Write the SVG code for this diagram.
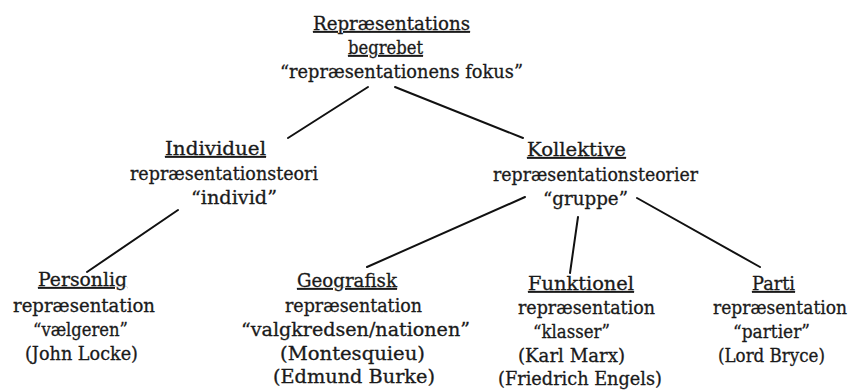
<svg xmlns="http://www.w3.org/2000/svg" width="853" height="390" viewBox="0 0 853 390">
<style>
text{font-family:"DejaVu Serif","Liberation Serif",serif;font-size:18px;fill:#1a1a1a;stroke:#1a1a1a;stroke-width:0.3}
.h{text-decoration:underline}
.c line{stroke:#111;stroke-width:2;stroke-linecap:round}
</style>
<rect width="853" height="390" fill="#ffffff"/>
<g class="c" id="connectors">
<line x1="368" y1="87" x2="288" y2="138"/>
<line x1="395" y1="87" x2="523" y2="138"/>
<line x1="178" y1="210" x2="87" y2="272"/>
<line x1="525" y1="197" x2="367" y2="267"/>
<line x1="578" y1="217" x2="570" y2="273"/>
<line x1="637" y1="198" x2="760" y2="267"/>
</g>
<g id="root">
<text class="h" x="313" y="30" textLength="157" lengthAdjust="spacingAndGlyphs">Repræsentations</text>
<text class="h" x="348" y="54" textLength="75" lengthAdjust="spacingAndGlyphs">begrebet</text>
<text x="280" y="78" textLength="243" lengthAdjust="spacingAndGlyphs">“repræsentationens fokus”</text>
</g>
<g id="individuel">
<text class="h" x="165" y="155" textLength="101" lengthAdjust="spacingAndGlyphs">Individuel</text>
<text x="130" y="180" textLength="188" lengthAdjust="spacingAndGlyphs">repræsentationsteori</text>
<text x="191" y="204" textLength="86" lengthAdjust="spacingAndGlyphs">“individ”</text>
</g>
<g id="kollektive">
<text class="h" x="527" y="156" textLength="99" lengthAdjust="spacingAndGlyphs">Kollektive</text>
<text x="493" y="181" textLength="205" lengthAdjust="spacingAndGlyphs">repræsentationsteorier</text>
<text x="543" y="205" textLength="85" lengthAdjust="spacingAndGlyphs">“gruppe”</text>
</g>
<g id="personlig">
<text class="h" x="38" y="286" textLength="89" lengthAdjust="spacingAndGlyphs">Personlig</text>
<text x="13" y="312" textLength="142" lengthAdjust="spacingAndGlyphs">repræsentation</text>
<text x="33" y="336" textLength="95" lengthAdjust="spacingAndGlyphs">“vælgeren”</text>
<text x="25" y="360" textLength="113" lengthAdjust="spacingAndGlyphs">(John Locke)</text>
</g>
<g id="geografisk">
<text class="h" x="297" y="287" textLength="100" lengthAdjust="spacingAndGlyphs">Geografisk</text>
<text x="285" y="312" textLength="137" lengthAdjust="spacingAndGlyphs">repræsentation</text>
<text x="241" y="336" textLength="229" lengthAdjust="spacingAndGlyphs">“valgkredsen/nationen”</text>
<text x="280" y="360" textLength="145" lengthAdjust="spacingAndGlyphs">(Montesquieu)</text>
<text x="273" y="383" textLength="162" lengthAdjust="spacingAndGlyphs">(Edmund Burke)</text>
</g>
<g id="funktionel">
<text class="h" x="528" y="290" textLength="106" lengthAdjust="spacingAndGlyphs">Funktionel</text>
<text x="518" y="314" textLength="137" lengthAdjust="spacingAndGlyphs">repræsentation</text>
<text x="533" y="338" textLength="77" lengthAdjust="spacingAndGlyphs">“klasser”</text>
<text x="518" y="362" textLength="107" lengthAdjust="spacingAndGlyphs">(Karl Marx)</text>
<text x="498" y="385" textLength="164" lengthAdjust="spacingAndGlyphs">(Friedrich Engels)</text>
</g>
<g id="parti">
<text class="h" x="752" y="290" textLength="43" lengthAdjust="spacingAndGlyphs">Parti</text>
<text x="713" y="314" textLength="134" lengthAdjust="spacingAndGlyphs">repræsentation</text>
<text x="733" y="338" textLength="77" lengthAdjust="spacingAndGlyphs">“partier”</text>
<text x="718" y="362" textLength="107" lengthAdjust="spacingAndGlyphs">(Lord Bryce)</text>
</g>
</svg>
